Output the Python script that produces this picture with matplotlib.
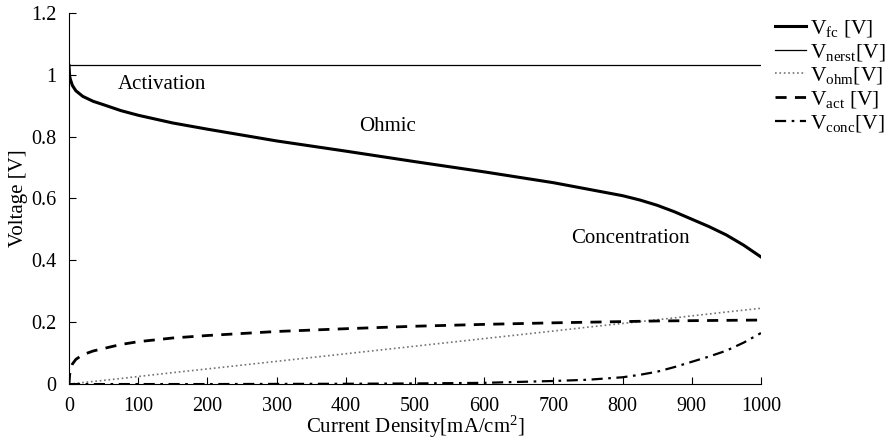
import matplotlib
matplotlib.use("Agg")
import matplotlib.pyplot as plt
from matplotlib.ticker import FuncFormatter

plt.rcParams['font.family'] = ['Liberation Serif', 'DejaVu Serif']
plt.rcParams['mathtext.fontset'] = 'custom'
plt.rcParams['mathtext.rm'] = 'Liberation Serif'
plt.rcParams['mathtext.it'] = 'Liberation Serif:italic'

# current density [mA/cm2]
current = [0, 1, 2, 5, 10, 20, 35, 50, 75, 100, 150, 200, 300, 400, 500,
           600, 700, 750, 800, 825, 850, 875, 900, 925, 950, 975, 1000]
# voltages
v_fc = [1.03, 0.995, 0.985, 0.965, 0.948, 0.930, 0.914, 0.903, 0.884, 0.869,
        0.844, 0.824, 0.786, 0.753, 0.719, 0.686, 0.651, 0.630, 0.609, 0.595,
        0.578, 0.557, 0.533, 0.509, 0.482, 0.449, 0.411]
v_nerst = [1.03] * len(current)
v_ohm = [0, 0.0002, 0.0005, 0.001, 0.0025, 0.005, 0.0086, 0.012, 0.018, 0.0245,
         0.037, 0.049, 0.0735, 0.098, 0.1225, 0.147, 0.1715, 0.184, 0.196,
         0.202, 0.208, 0.214, 0.2205, 0.2266, 0.233, 0.239, 0.245]
v_act = [0, 0.03, 0.045, 0.065, 0.08, 0.095, 0.107, 0.115, 0.128, 0.137, 0.149,
         0.157, 0.170, 0.179, 0.187, 0.193, 0.198, 0.200, 0.202, 0.203, 0.204,
         0.2045, 0.205, 0.2055, 0.206, 0.2065, 0.207]
v_conc = [0, 0, 0, 0, 0, 0, 0, 0, 0, 0, 0, 0, 0.0005, 0.001, 0.002, 0.004,
          0.010, 0.014, 0.022, 0.030, 0.040, 0.055, 0.072, 0.089, 0.108,
          0.134, 0.165]

regions = ["Activation", "Ohmic", "Concentration"]
region_pos = [(134, 0.967), (461, 0.832), (812, 0.472)]

fig = plt.figure(figsize=(8.9, 4.43), dpi=100)
ax = fig.add_axes([0.0775, 0.133, 0.7775, 0.838])

ax.plot(current, v_fc, color='black', lw=2.2, label=r'V$_{\rm fc}$ [V]')
ax.plot(current, v_nerst, color='black', lw=0.9, label=r'V$_{\rm nerst}$[V]')
ax.plot(current, v_ohm, color='0.45', lw=1.2, ls=':', label=r'V$_{\rm ohm}$[V]')
ax.plot(current, v_act, color='black', lw=2, ls=(0, (4, 3)), label=r'V$_{\rm act}$ [V]')
ax.plot(current, v_conc, color='black', lw=1.6, ls=(0, (5, 2.5, 1.2, 2.5)),
        label=r'V$_{\rm conc}$[V]')

for txt, (x, y) in zip(regions, region_pos):
    ax.text(x, y, txt, fontsize=15, ha='center', va='center')

ax.set_xlim(0, 1000)
ax.set_ylim(0, 1.2)
ax.set_xticks(range(0, 1001, 100))
ax.set_yticks([0, 0.2, 0.4, 0.6, 0.8, 1.0, 1.2])
ax.yaxis.set_major_formatter(FuncFormatter(lambda v, p: '%g' % v))
ax.tick_params(direction='in', length=5, labelsize=14.5, width=0.8, pad=9)
ax.spines['top'].set_visible(False)
ax.spines['right'].set_visible(False)
ax.set_xlabel(r'Current Density[mA/cm$^2$]', fontsize=15, labelpad=-1)
ax.set_ylabel('Voltage [V]', fontsize=15, labelpad=2.5)

ax.legend(loc='upper left', bbox_to_anchor=(1.008, 1.01), frameon=False,
          fontsize=15.5, handlelength=1.45, handletextpad=0.15, labelspacing=0.13,
          borderaxespad=0)

fig.savefig('out.png', dpi=100)
